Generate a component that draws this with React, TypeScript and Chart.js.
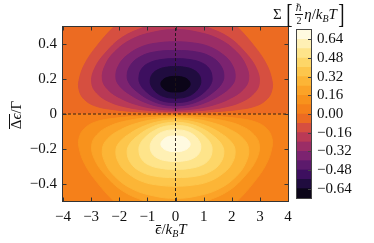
import React, { useEffect, useRef } from "react";
import { Chart, registerables } from "chart.js";
Chart.register(...registerables);

// contour levels (colour-bar boundaries)
const levels = [-0.72, -0.64, -0.56, -0.48, -0.4, -0.32, -0.24, -0.16, -0.08, 0, 0.08, 0.16, 0.24, 0.32, 0.4, 0.48, 0.56, 0.64, 0.72];
const bandColors = [
  "#0b0518", "#200c3f", "#3d0f5f", "#5c1a6c", "#7c2370", "#9b2d66", "#ba3a56", "#d64f40", "#ec6b22",
  "#f5801a", "#f8921c", "#fba327", "#fcb536", "#fdc64c", "#fdd668", "#fee48a", "#fff0b4", "#fffae0",
];

const xTicks = [-4, -3, -2, -1, 0, 1, 2, 3, 4];
const xTickLabels = ["−4", "−3", "−2", "−1", "0", "1", "2", "3", "4"];
const yTicks = [-0.4, -0.2, 0, 0.2, 0.4];
const yTickLabels = ["−0.4", "−0.2", "0", "0.2", "0.4"];
const cbTicks = [-0.64, -0.48, -0.32, -0.16, 0, 0.16, 0.32, 0.48, 0.64];
const cbTickLabels = ["−0.64", "−0.48", "−0.32", "−0.16", "0.00", "0.16", "0.32", "0.48", "0.64"];

// half-plane backgrounds (region nearest zero)
const upperBg = [[-4.3, 0], [4.3, 0], [4.3, 0.7], [-4.3, 0.7]];
const lowerBg = [[-4.3, 0], [4.3, 0], [4.3, -0.7], [-4.3, -0.7]];

// right halves of contour lines (x >= 0), from bottom-centre round to top-centre
// upper (negative values)
const cN08 = [[0, 0.006], [1.2, 0.012], [2.2, 0.025], [2.85, 0.046], [3.25, 0.085], [3.43, 0.14], [3.42, 0.2], [3.22, 0.29], [2.8, 0.39], [2.2, 0.5], [1.5, 0.6], [0, 0.66]];
const cN16 = [[0, 0.013], [0.9, 0.02], [1.7, 0.038], [2.35, 0.07], [2.8, 0.12], [2.98, 0.18], [2.88, 0.26], [2.5, 0.35], [1.9, 0.44], [1.1, 0.5], [0.5, 0.53], [0, 0.54]];
const cN24 = [[0, 0.021], [0.7, 0.03], [1.35, 0.052], [1.95, 0.09], [2.4, 0.14], [2.6, 0.2], [2.5, 0.28], [2.15, 0.36], [1.55, 0.43], [0.8, 0.47], [0, 0.485]];
const cN32 = [[0, 0.032], [0.55, 0.042], [1.1, 0.068], [1.6, 0.11], [1.98, 0.16], [2.12, 0.21], [2.02, 0.28], [1.7, 0.34], [1.15, 0.39], [0.55, 0.41], [0, 0.415]];
const cN40 = [[0, 0.046], [0.45, 0.055], [0.9, 0.08], [1.3, 0.12], [1.62, 0.17], [1.72, 0.22], [1.6, 0.28], [1.3, 0.325], [0.8, 0.355], [0, 0.365]];
const cN48 = [[0, 0.065], [0.4, 0.072], [0.75, 0.095], [1.05, 0.13], [1.25, 0.17], [1.3, 0.21], [1.2, 0.26], [0.92, 0.295], [0.45, 0.314], [0, 0.318]];
const cN56 = [[0, 0.09], [0.35, 0.097], [0.65, 0.12], [0.84, 0.155], [0.9, 0.19], [0.82, 0.23], [0.58, 0.258], [0.28, 0.27], [0, 0.273]];
const cN64 = [[0, 0.126], [0.25, 0.13], [0.44, 0.148], [0.52, 0.172], [0.45, 0.196], [0.25, 0.212], [0, 0.216]];
// lower (positive values)
const cP08 = [[0, -0.006], [1.2, -0.012], [2.2, -0.025], [2.85, -0.046], [3.25, -0.085], [3.43, -0.14], [3.42, -0.2], [3.22, -0.29], [2.8, -0.39], [2.2, -0.5], [1.5, -0.6], [0, -0.66]];
const cP16 = [[0, -0.013], [0.9, -0.02], [1.7, -0.038], [2.35, -0.07], [2.8, -0.12], [2.98, -0.18], [2.88, -0.26], [2.5, -0.35], [1.9, -0.44], [1.1, -0.5], [0.5, -0.53], [0, -0.54]];
const cP24 = [[0, -0.021], [0.7, -0.03], [1.35, -0.052], [1.95, -0.09], [2.4, -0.14], [2.6, -0.2], [2.5, -0.28], [2.15, -0.36], [1.55, -0.43], [0.8, -0.47], [0, -0.485]];
const cP32 = [[0, -0.032], [0.55, -0.042], [1.1, -0.068], [1.6, -0.11], [1.98, -0.16], [2.12, -0.21], [2.02, -0.28], [1.7, -0.34], [1.15, -0.39], [0.55, -0.41], [0, -0.415]];
const cP40 = [[0, -0.046], [0.45, -0.055], [0.9, -0.08], [1.3, -0.12], [1.62, -0.17], [1.72, -0.22], [1.6, -0.28], [1.3, -0.325], [0.8, -0.355], [0, -0.365]];
const cP48 = [[0, -0.065], [0.4, -0.072], [0.75, -0.095], [1.05, -0.13], [1.25, -0.17], [1.3, -0.21], [1.2, -0.26], [0.92, -0.295], [0.45, -0.314], [0, -0.318]];
const cP56 = [[0, -0.09], [0.35, -0.097], [0.65, -0.12], [0.84, -0.155], [0.9, -0.19], [0.82, -0.23], [0.58, -0.258], [0.28, -0.27], [0, -0.273]];
const cP64 = [[0, -0.126], [0.25, -0.13], [0.44, -0.148], [0.52, -0.172], [0.45, -0.196], [0.25, -0.212], [0, -0.216]];

const negContours: [number, number[][]][] = [[-0.08, cN08], [-0.16, cN16], [-0.24, cN24], [-0.32, cN32], [-0.4, cN40], [-0.48, cN48], [-0.56, cN56], [-0.64, cN64]];
const posContours: [number, number[][]][] = [[0.08, cP08], [0.16, cP16], [0.24, cP24], [0.32, cP32], [0.4, cP40], [0.48, cP48], [0.56, cP56], [0.64, cP64]];

const zeroLineV = [[0, -0.5], [0, 0.5]];
const zeroLineH = [[-4, 0], [4, 0]];

const FONT = '"Liberation Serif", "DejaVu Serif", serif';

function closeHalf(r: number[][]) {
  const left = r.slice(0, -1).reverse().map(([x, y]) => [-x, y]);
  return r.concat(left).map(([x, y]) => ({ x, y }));
}

function bandIndexFor(level: number) {
  const i = levels.indexOf(level);
  return level < 0 ? i - 1 : i;
}

export default function App() {
  const mainRef = useRef<HTMLCanvasElement>(null);
  const cbRef = useRef<HTMLCanvasElement>(null);

  useEffect(() => {
    const paint: any[] = [];
    const poly = (pts: any[], color: string, tension: number) => ({
      data: pts,
      showLine: true,
      fill: "shape",
      backgroundColor: color,
      borderColor: color,
      borderWidth: 1,
      tension,
      pointRadius: 0,
      clip: 0,
    });
    paint.push(poly(upperBg.map(([x, y]) => ({ x, y })), bandColors[bandIndexFor(0) - 1], 0));
    paint.push(poly(lowerBg.map(([x, y]) => ({ x, y })), bandColors[bandIndexFor(0)], 0));
    for (const [lv, half] of negContours) paint.push(poly(closeHalf(half), bandColors[bandIndexFor(lv)], 0.4));
    for (const [lv, half] of posContours) paint.push(poly(closeHalf(half), bandColors[bandIndexFor(lv)], 0.4));
    for (const ln of [zeroLineV, zeroLineH]) {
      paint.push({
        data: ln.map(([x, y]) => ({ x, y })),
        showLine: true,
        fill: false,
        borderColor: "rgba(30,20,20,0.9)",
        borderWidth: 1,
        borderDash: [3, 2],
        pointRadius: 0,
        tension: 0,
      });
    }
    paint.forEach((d, i) => (d.order = paint.length - i));

    const framePlugin = {
      id: "frame",
      afterDatasetsDraw(chart: any) {
        const { ctx, chartArea } = chart;
        const { left, right, top, bottom } = chartArea;
        const xs = chart.scales.x, ys = chart.scales.y;
        ctx.save();
        ctx.strokeStyle = "#333";
        ctx.lineWidth = 1;
        ctx.beginPath();
        for (const v of xTicks) {
          const px = Math.round(xs.getPixelForValue(v)) + 0.5;
          ctx.moveTo(px, bottom); ctx.lineTo(px, bottom - 3.5);
          ctx.moveTo(px, top); ctx.lineTo(px, top + 3.5);
        }
        for (const v of yTicks) {
          const py = Math.round(ys.getPixelForValue(v)) + 0.5;
          ctx.moveTo(left, py); ctx.lineTo(left + 3.5, py);
          ctx.moveTo(right, py); ctx.lineTo(right - 3.5, py);
        }
        ctx.stroke();
        ctx.strokeRect(left - 0.5, top - 0.5, right - left + 1, bottom - top + 1);
        ctx.restore();
      },
    };

    const main = new Chart(mainRef.current!, {
      type: "scatter",
      data: { datasets: paint },
      options: {
        responsive: false,
        animation: false,
        devicePixelRatio: 1,
        events: [],
        layout: { padding: { left: 0, top: 27, right: 12, bottom: 0 } },
        elements: { line: { capBezierPoints: false } as any },
        plugins: { legend: { display: false }, tooltip: { enabled: false } },
        scales: {
          x: {
            type: "linear",
            min: -4,
            max: 4,
            grid: { display: false, drawTicks: false },
            border: { display: false },
            afterBuildTicks: (s: any) => { s.ticks = xTicks.map((v) => ({ value: v })); },
            afterFit: (s: any) => { s.height = 42; },
            ticks: {
              font: { family: FONT, size: 15 },
              color: "#111",
              padding: 7,
              maxRotation: 0,
              autoSkip: false,
              callback: (v: any) => xTickLabels[xTicks.indexOf(Number(v))] ?? "",
            },
          },
          y: {
            type: "linear",
            min: -0.5,
            max: 0.5,
            grid: { display: false, drawTicks: false },
            border: { display: false },
            afterBuildTicks: (s: any) => { s.ticks = yTicks.map((v) => ({ value: v })); },
            afterFit: (s: any) => { s.width = 63; },
            ticks: {
              font: { family: FONT, size: 15 },
              color: "#111",
              padding: 6,
              autoSkip: false,
              callback: (v: any) => {
                const i = yTicks.findIndex((t) => Math.abs(t - Number(v)) < 1e-9);
                return i >= 0 ? yTickLabels[i] : "";
              },
            },
          },
        },
      },
      plugins: [framePlugin],
    } as any);

    const cbFrame = {
      id: "cbframe",
      afterDatasetsDraw(chart: any) {
        const { ctx, chartArea } = chart;
        const { left, right, top, bottom } = chartArea;
        const ys = chart.scales.y;
        ctx.save();
        ctx.strokeStyle = "#444";
        ctx.lineWidth = 1;
        ctx.beginPath();
        for (const v of cbTicks) {
          const py = Math.round(ys.getPixelForValue(v)) + 0.5;
          ctx.moveTo(right, py); ctx.lineTo(right - 3, py);
        }
        ctx.stroke();
        ctx.strokeRect(left - 0.5, top - 0.5, right - left + 1, bottom - top + 1);
        ctx.restore();
      },
    };

    const cb = new Chart(cbRef.current!, {
      type: "bar",
      data: {
        labels: [""],
        datasets: bandColors.map((c, i) => ({
          data: [[levels[0], levels[i + 1]]],
          backgroundColor: c,
          borderWidth: 0,
          barPercentage: 1,
          categoryPercentage: 1,
          grouped: false,
        })),
      },
      options: {
        responsive: false,
        animation: false,
        devicePixelRatio: 1,
        events: [],
        layout: { padding: { left: 5, top: 30, right: 0, bottom: 45 } },
        plugins: { legend: { display: false }, tooltip: { enabled: false } },
        scales: {
          x: { display: false },
          y: {
            position: "right",
            min: levels[0],
            max: levels[levels.length - 1],
            grid: { display: false, drawTicks: false },
            border: { display: false },
            afterBuildTicks: (s: any) => { s.ticks = cbTicks.map((v) => ({ value: v })); },
            afterFit: (s: any) => { s.width = 63; },
            ticks: {
              font: { family: FONT, size: 15 },
              color: "#111",
              padding: 6,
              autoSkip: false,
              callback: (v: any) => {
                const i = cbTicks.findIndex((t) => Math.abs(t - Number(v)) < 1e-9);
                return i >= 0 ? cbTickLabels[i] : "";
              },
            },
          },
        },
      },
      plugins: [cbFrame],
    } as any);

    return () => {
      main.destroy();
      cb.destroy();
    };
  }, []);

  const sub: React.CSSProperties = { fontSize: 10, fontStyle: "italic", verticalAlign: "-3px", lineHeight: 0 };
  return (
    <div style={{ position: "absolute", left: 0, top: 0, width: 374, height: 243, background: "#fff", overflow: "hidden", fontFamily: FONT, color: "#111" }}>
      <canvas ref={mainRef} width={300} height={243} style={{ position: "absolute", left: 0, top: 0, width: 300, height: 243 }} />
      <canvas ref={cbRef} width={82} height={243} style={{ position: "absolute", left: 292, top: 0, width: 82, height: 243 }} />
      {/* x title */}
      <div style={{ position: "absolute", left: 121, top: 222, width: 100, textAlign: "center", fontSize: 15, lineHeight: "15px", whiteSpace: "nowrap" }}>
        <span style={{ position: "relative", display: "inline-block", fontStyle: "italic" }}>
          ϵ<span style={{ position: "absolute", left: 1, right: 0, top: 3, borderTop: "1px solid #111" }} />
        </span>
        /<i>k</i><sub style={sub}>B</sub><i>T</i>
      </div>
      {/* y title */}
      <div style={{ position: "absolute", left: 16 - 30, top: 115 - 9, width: 60, height: 18, lineHeight: "18px", textAlign: "center", fontSize: 15, transform: "rotate(-90deg)", transformOrigin: "50% 50%", whiteSpace: "nowrap" }}>
        <span style={{ position: "relative", display: "inline-block" }}>
          Δ<i>ϵ</i>
          <span style={{ position: "absolute", left: 0, right: 0, top: 2, borderTop: "1px solid #111" }} />
        </span>
        /Γ
      </div>
      {/* colour-bar title */}
      <div style={{ position: "absolute", left: 273, top: 1, height: 26, display: "flex", alignItems: "center", fontSize: 15, whiteSpace: "nowrap" }}>
        <span>Σ</span>
        <span style={{ fontSize: 27, lineHeight: "26px", marginLeft: 3, display: "inline-block", transform: "scaleX(0.7)" }}>[</span>
        <span style={{ display: "inline-flex", flexDirection: "column", alignItems: "center", fontSize: 10, lineHeight: "10px", margin: "0 1px" }}>
          <span style={{ fontStyle: "italic", borderBottom: "0.8px solid #111", padding: "0 1px 1px" }}>ℏ</span>
          <span style={{ paddingTop: 1 }}>2</span>
        </span>
        <span>
          <i>η</i>/<i>k</i><sub style={sub}>B</sub><i>T</i>
        </span>
        <span style={{ fontSize: 27, lineHeight: "26px", display: "inline-block", transform: "scaleX(0.7)" }}>]</span>
      </div>
    </div>
  );
}
